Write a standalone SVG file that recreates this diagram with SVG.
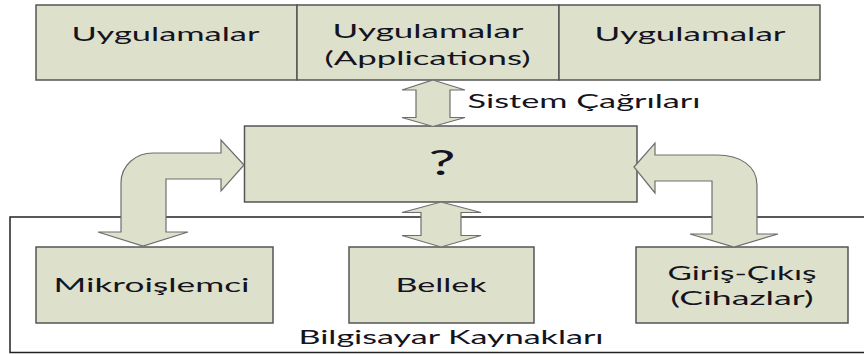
<svg xmlns="http://www.w3.org/2000/svg" width="864" height="354" viewBox="0 0 864 354">
<style>
.box{fill:#dde0cb;stroke:#555;stroke-width:1.5}
.arr{fill:#dde0cb;stroke:#6e6e6e;stroke-width:1.2;stroke-linejoin:miter}
.t{font-family:Lato,"Open Sans","DejaVu Sans",sans-serif;font-size:20px;fill:#141420;text-anchor:middle}
.frame{fill:none;stroke:#222;stroke-width:1.5}
</style>
<rect width="864" height="354" fill="#fff"/>
<g id="bilgisayar-kaynaklari">
<rect class="frame" x="10" y="217" width="900" height="135.5"/>
<text class="t" x="451" y="344" textLength="305" lengthAdjust="spacingAndGlyphs">Bilgisayar Kaynakları</text>
</g>
<g id="uygulamalar-1">
<rect class="box" x="36" y="5" width="261" height="75"/>
<text class="t" x="165.5" y="41" textLength="188" lengthAdjust="spacingAndGlyphs">Uygulamalar</text>
</g>
<g id="uygulamalar-2">
<rect class="box" x="297" y="5" width="262" height="75"/>
<text class="t" x="428" y="38" textLength="191" lengthAdjust="spacingAndGlyphs">Uygulamalar</text>
<text class="t" x="427.5" y="65" textLength="206" lengthAdjust="spacingAndGlyphs">(Applications)</text>
</g>
<g id="uygulamalar-3">
<rect class="box" x="559" y="5" width="261" height="75"/>
<text class="t" x="690" y="41" textLength="191" lengthAdjust="spacingAndGlyphs">Uygulamalar</text>
</g>
<g id="kernel">
<rect class="box" x="244.5" y="126" width="392.5" height="76"/>
<text class="t" x="442" y="175" style="font-size:34px" textLength="27" lengthAdjust="spacingAndGlyphs">?</text>
</g>
<g id="mikroislemci">
<rect class="box" x="36" y="247" width="237" height="76"/>
<text class="t" x="151.5" y="292" textLength="196" lengthAdjust="spacingAndGlyphs">Mikroişlemci</text>
</g>
<g id="bellek">
<rect class="box" x="349" y="247" width="185" height="76"/>
<text class="t" x="441" y="292" textLength="91" lengthAdjust="spacingAndGlyphs">Bellek</text>
</g>
<g id="giris-cikis">
<rect class="box" x="636" y="247" width="212" height="76"/>
<text class="t" x="742" y="280" textLength="149" lengthAdjust="spacingAndGlyphs">Giriş-Çıkış</text>
<text class="t" x="742" y="305" textLength="143" lengthAdjust="spacingAndGlyphs">(Cihazlar)</text>
</g>
<g id="connectors">
<path class="arr" d="M433 80 L465 90 L450 90 L450 117.5 L465 117.5 L433 126.5 L402 117.5 L416 117.5 L416 90 L402 90 Z"/>
<text class="t" x="584" y="108" textLength="233" lengthAdjust="spacingAndGlyphs">Sistem Çağrıları</text>
<path class="arr" d="M441 202 L481 212.5 L461 212.5 L461 235.5 L481 235.5 L441 247 L402 235.5 L421 235.5 L421 212.5 L402 212.5 Z"/>
<path class="arr" d="M244 165 L221 140 L221 153 L153 153 C136 153 121 165 121 183 L121 232 L98 232 L143 246 L188 232 L166 232 L166 179 L221 179 L221 191 Z"/>
<path class="arr" d="M634 167 L655 143 L655 155 L717 155 C740 155 757 166 757 185 L757 234 L778 234 L734 247 L690 234 L712 234 L712 181 L655 181 L655 193 Z"/>
</g>
</svg>
